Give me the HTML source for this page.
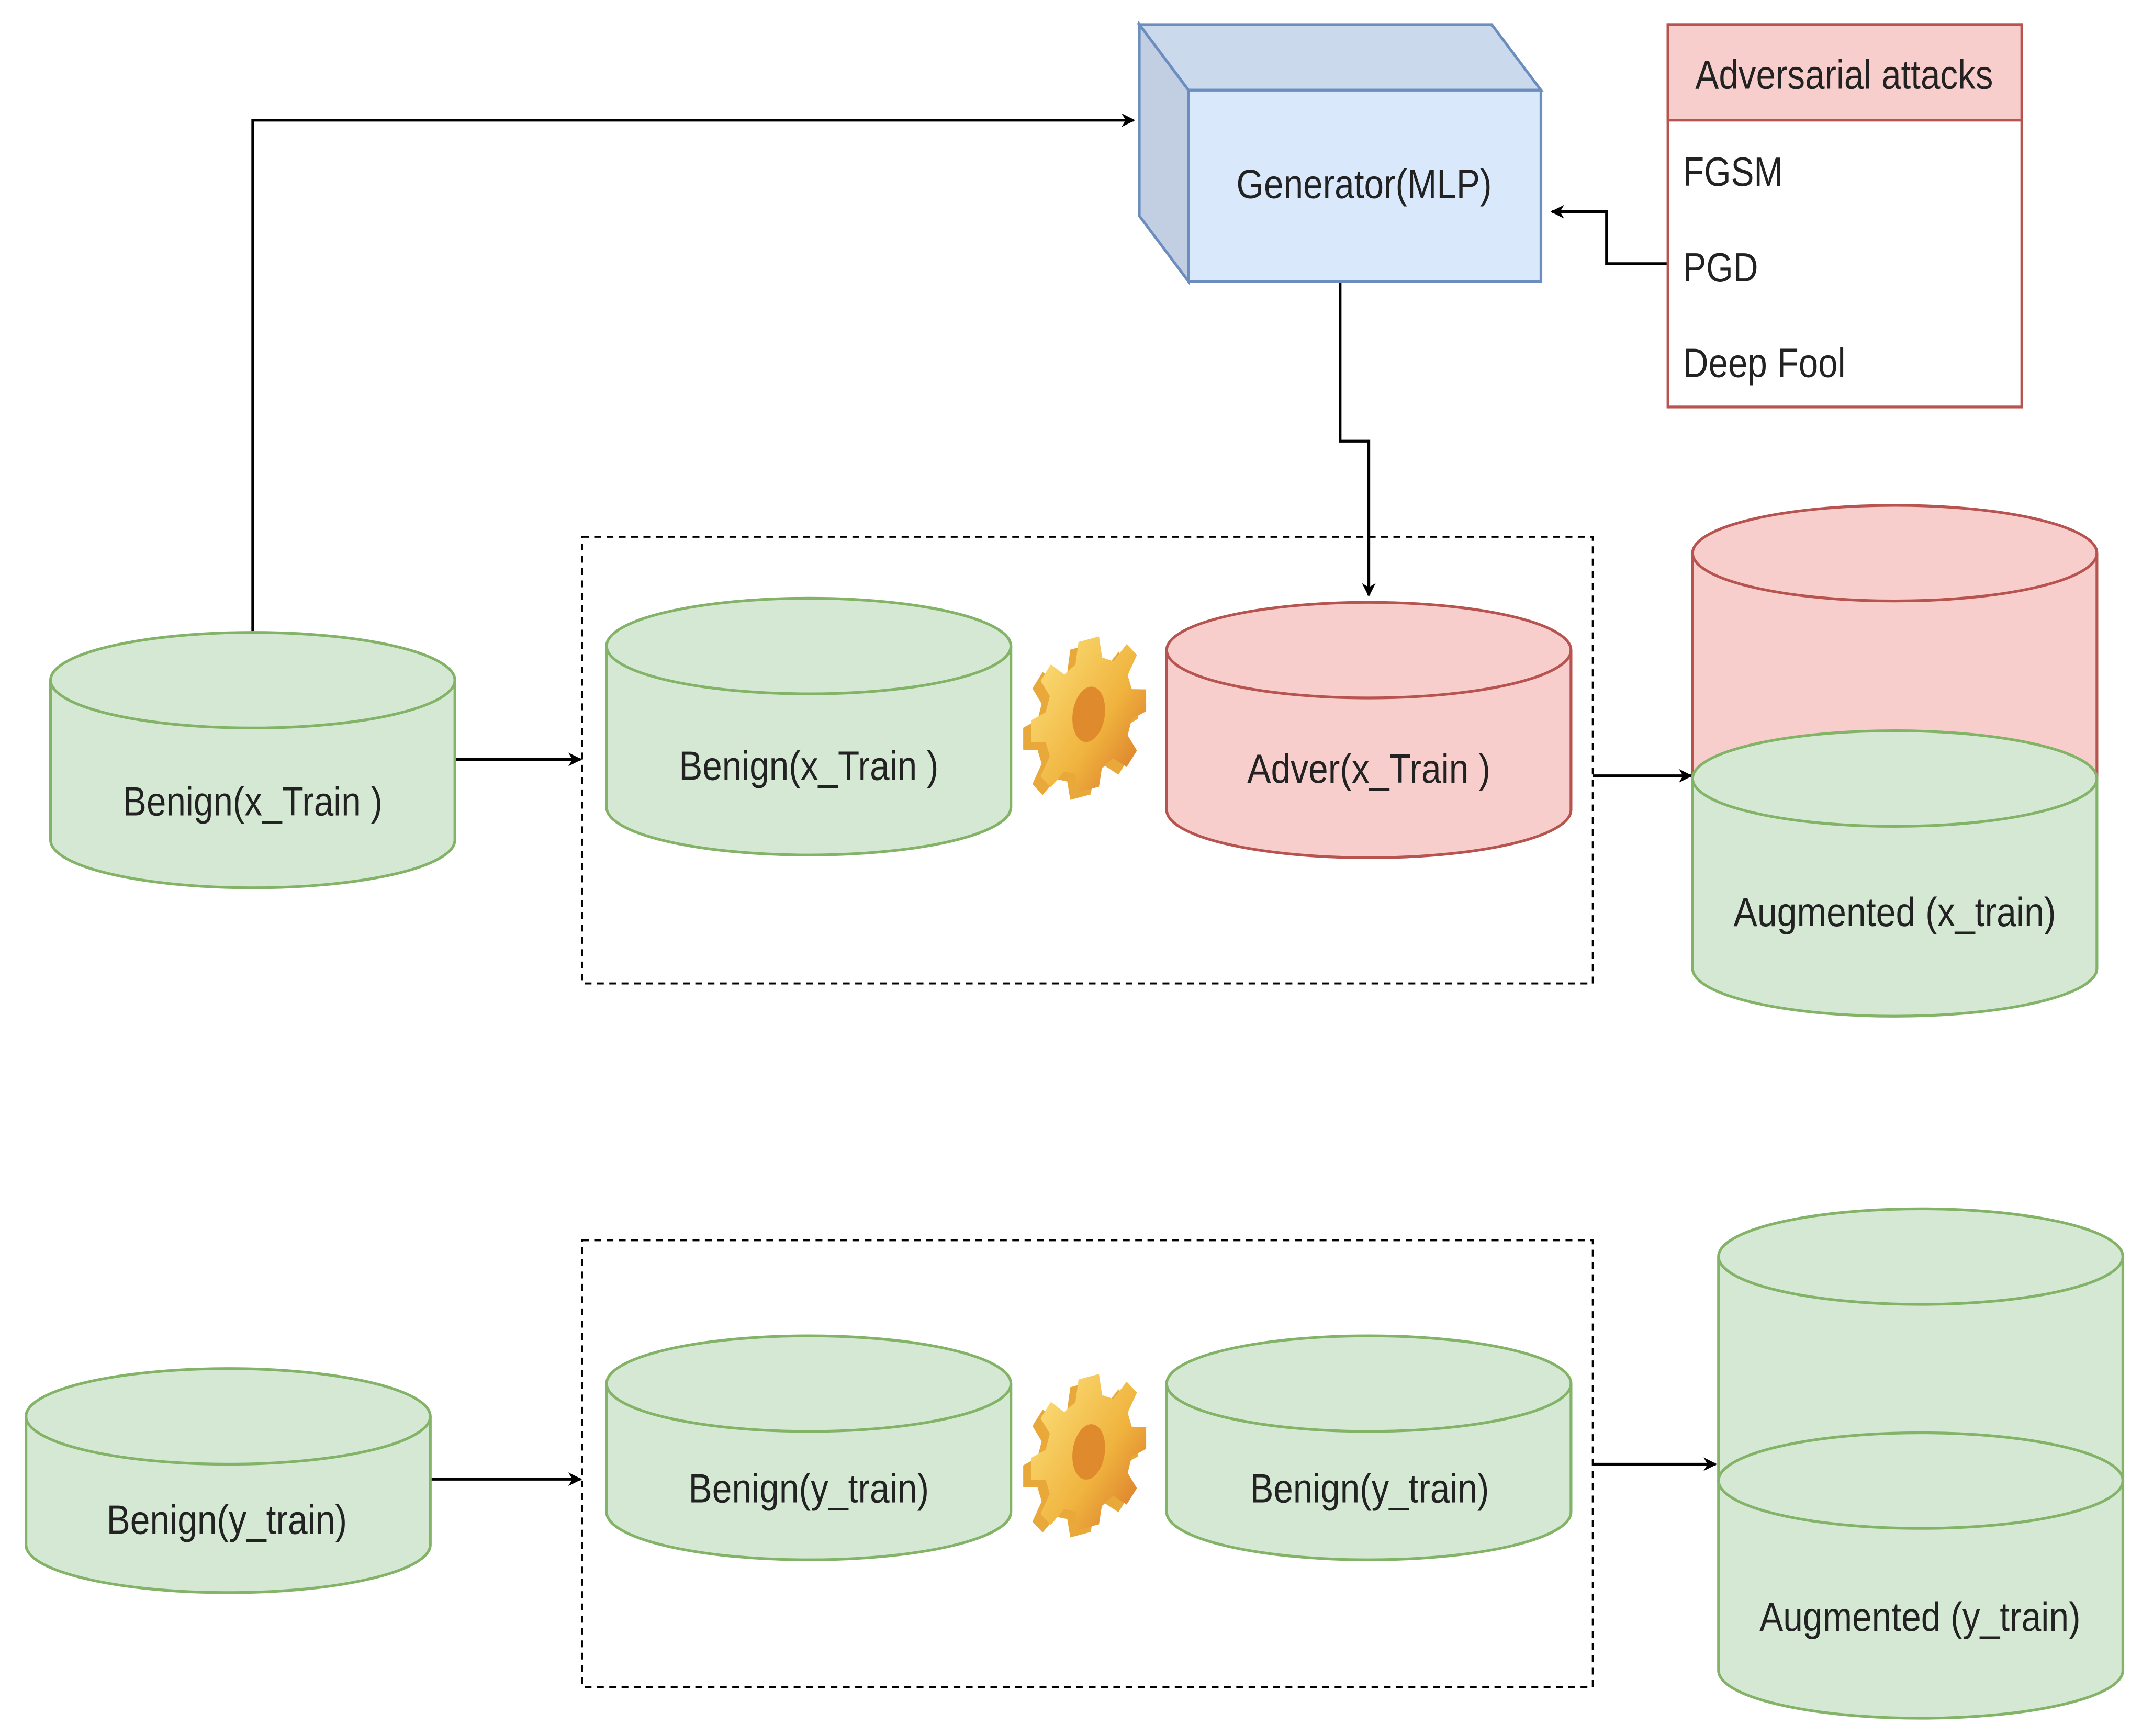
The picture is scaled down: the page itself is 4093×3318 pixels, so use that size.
<!DOCTYPE html>
<html><head><meta charset="utf-8"><style>
html,body{margin:0;padding:0;background:#fff;}
svg{display:block;}
text{font-family:"Liberation Sans",sans-serif;fill:#222;}
</style></head><body>
<svg width="4093" height="3318" viewBox="0 0 1568 1271" preserveAspectRatio="none" xmlns="http://www.w3.org/2000/svg">
<defs>
<marker id="ar" markerWidth="10" markerHeight="10" refX="9" refY="5" orient="auto" markerUnits="userSpaceOnUse">
<path d="M0,0 L10,5 L0,10 L3,5 Z" fill="#000"/></marker>
<linearGradient id="gg" x1="0" y1="0" x2="1" y2="1">
<stop offset="0" stop-color="#fbe07a"/><stop offset="0.6" stop-color="#f0b33e"/><stop offset="1" stop-color="#d9782a"/></linearGradient>
<g id="gear">
<g transform="skewY(-15) scale(0.75,1)">
<path d="M-10,-52 L10,-52 L13,-36 L24,-31 L37,-41 L47,-31 L38,-18 L42,-7 L56,-4 L56,12 L42,15 L38,26 L47,39 L37,49 L24,40 L13,44 L10,58 L-10,58 L-13,44 L-24,40 L-37,49 L-47,39 L-38,26 L-42,15 L-56,12 L-56,-4 L-42,-7 L-38,-18 L-47,-31 L-37,-41 L-24,-31 L-13,-36 Z" fill="#e9a93a" transform="translate(-8,4)"/>
<path d="M-10,-52 L10,-52 L13,-36 L24,-31 L37,-41 L47,-31 L38,-18 L42,-7 L56,-4 L56,12 L42,15 L38,26 L47,39 L37,49 L24,40 L13,44 L10,58 L-10,58 L-13,44 L-24,40 L-37,49 L-47,39 L-38,26 L-42,15 L-56,12 L-56,-4 L-42,-7 L-38,-18 L-47,-31 L-37,-41 L-24,-31 L-13,-36 Z" fill="url(#gg)"/>
<ellipse cx="0" cy="3" rx="16" ry="20" fill="#e08a2e"/>
</g></g>
</defs>

<!-- connectors -->
<polyline points="185,462 185,88 830,88" fill="none" stroke="#000" stroke-width="2" marker-end="url(#ar)"/>
<polyline points="981,206 981,323 1002,323 1002,436" fill="none" stroke="#000" stroke-width="2" marker-end="url(#ar)"/>
<polyline points="1221,193 1176,193 1176,155 1136,155" fill="none" stroke="#000" stroke-width="2" marker-end="url(#ar)"/>
<line x1="333" y1="556" x2="425" y2="556" stroke="#000" stroke-width="2" marker-end="url(#ar)"/>
<line x1="1166" y1="568" x2="1238" y2="568" stroke="#000" stroke-width="2" marker-end="url(#ar)"/>
<line x1="315" y1="1083" x2="425" y2="1083" stroke="#000" stroke-width="2" marker-end="url(#ar)"/>
<line x1="1166" y1="1072" x2="1256" y2="1072" stroke="#000" stroke-width="2" marker-end="url(#ar)"/>

<!-- dashed boxes -->
<rect x="426" y="393" width="740" height="327" fill="none" stroke="#000" stroke-width="1.5" stroke-dasharray="5,4"/>
<rect x="426" y="908" width="740" height="327" fill="none" stroke="#000" stroke-width="1.5" stroke-dasharray="5,4"/>

<!-- generator cube -->
<polygon points="834,18 1092,18 1128,66 870,66" fill="#cbd9ec" stroke="#6c8ebf" stroke-width="2"/>
<polygon points="834,18 870,66 870,206 834,158" fill="#c2cfe2" stroke="#6c8ebf" stroke-width="2"/>
<rect x="870" y="66" width="258" height="140" fill="#dae8fc" stroke="#6c8ebf" stroke-width="2"/>
<text x="905" y="145" font-size="30" textLength="187" lengthAdjust="spacingAndGlyphs">Generator(MLP)</text>

<!-- adversarial attacks -->
<rect x="1221" y="18" width="259" height="280" fill="#fff" stroke="#b85450" stroke-width="2"/>
<rect x="1221" y="18" width="259" height="70" fill="#f8cecc" stroke="#b85450" stroke-width="2"/>
<text x="1241" y="65" font-size="30" textLength="218" lengthAdjust="spacingAndGlyphs">Adversarial attacks</text>
<text x="1232" y="136" font-size="30" textLength="73" lengthAdjust="spacingAndGlyphs">FGSM</text>
<text x="1232" y="206" font-size="30" textLength="55" lengthAdjust="spacingAndGlyphs">PGD</text>
<text x="1232" y="276" font-size="30" textLength="119" lengthAdjust="spacingAndGlyphs">Deep Fool</text>

<!-- cylinders helper: green -->
<g fill="#d5e8d4" stroke="#82b366" stroke-width="2">
<!-- Benign x left -->
<path d="M37,498 A148,35 0 0 1 333,498 L333,615 A148,35 0 0 1 37,615 Z"/>
<path d="M37,498 A148,35 0 0 0 333,498" fill="none"/>
<!-- inner benign x -->
<path d="M444,473 A148,35 0 0 1 740,473 L740,591 A148,35 0 0 1 444,591 Z"/>
<path d="M444,473 A148,35 0 0 0 740,473" fill="none"/>
</g>
<g fill="#f8cecc" stroke="#b85450" stroke-width="2">
<path d="M854,476 A148,35 0 0 1 1150,476 L1150,593 A148,35 0 0 1 854,593 Z"/>
<path d="M854,476 A148,35 0 0 0 1150,476" fill="none"/>
<!-- augmented red top -->
<path d="M1239,405 A148,35 0 0 1 1535,405 L1535,570 L1239,570 Z"/>
<path d="M1239,405 A148,35 0 0 0 1535,405" fill="none"/>
</g>
<g fill="#d5e8d4" stroke="#82b366" stroke-width="2">
<path d="M1239,570 A148,35 0 0 1 1535,570 L1535,709 A148,35 0 0 1 1239,709 Z"/>
<path d="M1239,570 A148,35 0 0 0 1535,570" fill="none"/>
<!-- bottom row -->
<path d="M19,1037 A148,35 0 0 1 315,1037 L315,1131 A148,35 0 0 1 19,1131 Z"/>
<path d="M19,1037 A148,35 0 0 0 315,1037" fill="none"/>
<path d="M444,1013 A148,35 0 0 1 740,1013 L740,1107 A148,35 0 0 1 444,1107 Z"/>
<path d="M444,1013 A148,35 0 0 0 740,1013" fill="none"/>
<path d="M854,1013 A148,35 0 0 1 1150,1013 L1150,1107 A148,35 0 0 1 854,1107 Z"/>
<path d="M854,1013 A148,35 0 0 0 1150,1013" fill="none"/>
<!-- augmented y -->
<path d="M1258,920 A148,35 0 0 1 1554,920 L1554,1084 L1258,1084 Z"/>
<path d="M1258,920 A148,35 0 0 0 1554,920" fill="none"/>
<path d="M1258,1084 A148,35 0 0 1 1554,1084 L1554,1223 A148,35 0 0 1 1258,1223 Z"/>
<path d="M1258,1084 A148,35 0 0 0 1554,1084" fill="none"/>
</g>

<text x="90" y="597" font-size="30" textLength="190" lengthAdjust="spacingAndGlyphs">Benign(x_Train )</text>
<text x="497" y="571" font-size="30" textLength="190" lengthAdjust="spacingAndGlyphs">Benign(x_Train )</text>
<text x="913" y="573" font-size="30" textLength="178" lengthAdjust="spacingAndGlyphs">Adver(x_Train )</text>
<text x="1269" y="678" font-size="30" textLength="236" lengthAdjust="spacingAndGlyphs">Augmented (x_train)</text>
<text x="78" y="1123" font-size="30" textLength="176" lengthAdjust="spacingAndGlyphs">Benign(y_train)</text>
<text x="504" y="1100" font-size="30" textLength="176" lengthAdjust="spacingAndGlyphs">Benign(y_train)</text>
<text x="915" y="1100" font-size="30" textLength="175" lengthAdjust="spacingAndGlyphs">Benign(y_train)</text>
<text x="1288" y="1194" font-size="30" textLength="235" lengthAdjust="spacingAndGlyphs">Augmented (y_train)</text>

<use href="#gear" x="797" y="520"/>
<use href="#gear" x="797" y="1060"/>
</svg>
</body></html>
